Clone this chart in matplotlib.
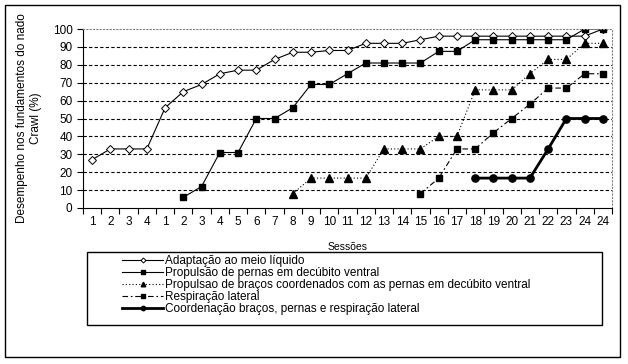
import numpy as np
import matplotlib.pyplot as plt
from matplotlib.patches import Rectangle

plt.rcParams['font.family'] = ['Liberation Sans', 'DejaVu Sans']

sessoes = ["1", "2", "3", "4"] + [str(i) for i in range(1, 25)] + ["24"]
nan = np.nan

adaptacao = [27, 33, 33, 33, 56, 65, 69, 75, 77, 77, 83, 87, 87, 88, 88, 92,
             92, 92, 94, 96, 96, 96, 96, 96, 96, 96, 96, 96, 100]
pernas = [nan, nan, nan, nan, nan, 6, 12, 31, 31, 50, 50, 56, 69, 69, 75, 81,
          81, 81, 81, 87.5, 87.5, 94, 94, 94, 94, 94, 94, 100, 100]
bracos = [nan] * 11 + [8, 16.7, 16.7, 16.7, 16.7, 33, 33, 33, 40, 40, 66, 66,
                       66, 75, 83, 83, 92, 92]
respiracao = [nan] * 18 + [8, 16.7, 33, 33, 42, 50, 58, 67, 67, 75, 75]
coordenacao = [nan] * 21 + [16.7, 16.7, 16.7, 16.7, 33, 50, 50, 50]

labels = ["Adaptação ao meio líquido",
          "Propulsão de pernas em decúbito ventral",
          "Propulsao de braços coordenados com as pernas em decúbito ventral",
          "Respiração lateral",
          "Coordenação braços, pernas e respiração lateral"]

W, H = 628, 364
fig = plt.figure(figsize=(W / 100, H / 100), dpi=100)
ax = fig.add_axes([83 / W, 1 - 208 / H, (612 - 83) / W, (208 - 29) / H])

x = np.arange(len(sessoes))
ax.plot(x, adaptacao, color='black', lw=0.8, marker='D', ms=4.2,
        mfc='white', mec='black', mew=0.7, label=labels[0])
ax.plot(x, pernas, color='black', lw=0.8, marker='s', ms=5, label=labels[1])
ax.plot(x, bracos, color='black', lw=0.8, ls=(0, (1, 2)), marker='^', ms=5.5,
        label=labels[2])
ax.plot(x, respiracao, color='black', lw=0.8, ls=(0, (5, 2.5, 1.5, 2.5)),
        marker='s', ms=5, label=labels[3])
ax.plot(x, coordenacao, color='black', lw=2, marker='o', ms=5.2, label=labels[4])

ax.set_xlim(-0.5, len(sessoes) - 0.5)
ax.set_ylim(0, 100)
ax.set_yticks(np.arange(0, 101, 10))
ax.set_xticks(np.arange(-0.5, len(sessoes), 1))
ax.set_xticklabels([])
ax.set_xticks(x, minor=True)
ax.set_xticklabels(sessoes, minor=True)
ax.tick_params(axis='x', which='major', length=4, direction='out', width=0.8)
ax.tick_params(axis='x', which='minor', length=0, pad=6, labelsize=8.5)
ax.tick_params(axis='y', length=4, width=0.8, labelsize=8.5)

for v in range(10, 100, 10):
    ax.axhline(v, color='black', lw=0.8, ls=(0, (3, 2)), zorder=0)
for s in ['top', 'right']:
    ax.spines[s].set_color('gray')
    ax.spines[s].set_linestyle((0, (1, 2)))
    ax.spines[s].set_linewidth(0.8)

ax.set_xlabel("Sessões", fontsize=7.5, labelpad=10)
ax.set_ylabel("Desempenho nos fundamentos do nado\nCrawl (%)", fontsize=8.5,
              labelpad=8)

fig.legend(loc='upper left', bbox_to_anchor=(122 / W, 1 - 255 / H),
           frameon=False, fontsize=8.5, handlelength=3.5, handletextpad=0.15,
           labelspacing=0.0, borderpad=0, borderaxespad=0, markerscale=0.6)

fig.patches.append(Rectangle((87 / W, 1 - 325 / H), (602 - 87) / W, 73 / H,
                             transform=fig.transFigure, fill=False,
                             edgecolor='black', lw=1))
fig.patches.append(Rectangle((5 / W, 1 - 357 / H), (620 - 5) / W, 352 / H,
                             transform=fig.transFigure, fill=False,
                             edgecolor='black', lw=1))

plt.savefig("out.png", dpi=100)
